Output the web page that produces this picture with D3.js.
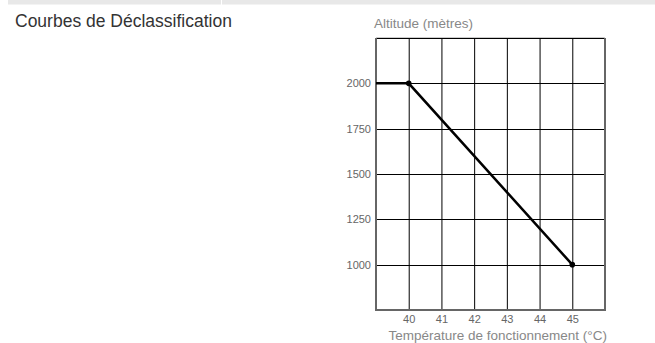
<!DOCTYPE html>
<html>
<head>
<meta charset="utf-8">
<script src="https://cdn.jsdelivr.net/npm/d3@7"></script>
<style>
  body { margin: 0; background: #fff; }
  svg { display: block; font-family: "Liberation Sans", Arial, sans-serif; }
</style>
</head>
<body>
<div id="chart"></div>
<script>
(function () {
  const temps = [39, 40, 45];
  const altitudes = [2000, 2000, 1000];
  const markers = [false, true, true];
  const xTicks = [40, 41, 42, 43, 44, 45];
  const yTicks = [1000, 1250, 1500, 1750, 2000];

  const width = 655;
  const height = 343;

  const svg = d3.select("#chart")
    .append("svg")
    .attr("width", width)
    .attr("height", height);

  // bandeau gris en haut
  svg.append("rect").attr("x", 8).attr("y", 0).attr("width", 213).attr("height", 4.5).attr("fill", "#e8e8e8");
  svg.append("rect").attr("x", 222).attr("y", 0).attr("width", 433).attr("height", 4.5).attr("fill", "#e8e8e8");

  svg.append("text")
    .attr("x", 15)
    .attr("y", 26.5)
    .text("Courbes de Déclassification")
    .style("font-size", "17.5px")
    .style("fill", "#333");

  const x = d3.scaleLinear().domain([39, 46]).range([376, 605]);
  const y = d3.scaleLinear().domain([750, 2250]).range([310, 38]);

  // grille
  svg.selectAll("line.vgrid")
    .data(xTicks)
    .enter()
    .append("line")
    .attr("x1", d => x(d) + 0.5)
    .attr("x2", d => x(d) + 0.5)
    .attr("y1", y(2250))
    .attr("y2", y(750))
    .attr("stroke", "#000")
    .attr("stroke-width", 1);

  svg.selectAll("line.hgrid")
    .data(yTicks.concat([2250]))
    .enter()
    .append("line")
    .attr("x1", x(39))
    .attr("x2", x(46))
    .attr("y1", d => Math.round(y(d)) + 0.5)
    .attr("y2", d => Math.round(y(d)) + 0.5)
    .attr("stroke", "#000")
    .attr("stroke-width", 1);

  // cadre gris
  svg.append("line")
    .attr("x1", x(39)).attr("x2", x(39))
    .attr("y1", y(2250)).attr("y2", y(750) + 1)
    .attr("stroke", "#666").attr("stroke-width", 2);
  svg.append("line")
    .attr("x1", x(46)).attr("x2", x(46))
    .attr("y1", y(2250)).attr("y2", y(750) + 1)
    .attr("stroke", "#666").attr("stroke-width", 2);
  svg.append("line")
    .attr("x1", x(39)).attr("x2", x(46))
    .attr("y1", y(750)).attr("y2", y(750))
    .attr("stroke", "#666").attr("stroke-width", 2);
  svg.append("line")
    .attr("x1", x(39)).attr("x2", x(46))
    .attr("y1", y(2250) - 0.5).attr("y2", y(2250) - 0.5)
    .attr("stroke", "#ccc").attr("stroke-width", 1);

  // axes
  const xAxis = svg.append("g")
    .attr("transform", `translate(0,${y(750)})`)
    .call(d3.axisBottom(x).tickValues(xTicks).tickSize(0).tickPadding(5).tickFormat(d3.format("d")));
  xAxis.select(".domain").remove();
  xAxis.selectAll("text")
    .style("font-size", "11px")
    .style("fill", "#666")
    .style("font-family", "Liberation Sans, Arial, sans-serif");

  const yAxis = svg.append("g")
    .attr("transform", `translate(${x(39)},0)`)
    .call(d3.axisLeft(y).tickValues(yTicks).tickSize(0).tickPadding(5).tickFormat(d3.format("d")));
  yAxis.select(".domain").remove();
  yAxis.selectAll("text")
    .style("font-size", "11px")
    .style("fill", "#666")
    .style("font-family", "Liberation Sans, Arial, sans-serif");

  svg.append("text")
    .attr("x", 374)
    .attr("y", 28)
    .text("Altitude (mètres)")
    .style("font-size", "13.5px")
    .style("fill", "#888");

  svg.append("text")
    .attr("x", 607)
    .attr("y", 340)
    .attr("text-anchor", "end")
    .text("Température de fonctionnement (°C)")
    .style("font-size", "13.5px")
    .style("fill", "#888");

  // courbe
  const pts = temps.map((t, i) => ({ t: t, a: altitudes[i], m: markers[i] }));
  svg.append("path")
    .datum(pts)
    .attr("fill", "none")
    .attr("stroke", "#000")
    .attr("stroke-width", 2.5)
    .attr("d", d3.line().x(d => x(d.t)).y(d => y(d.a)));

  svg.selectAll("circle.pt")
    .data(pts.filter(d => d.m))
    .enter()
    .append("circle")
    .attr("cx", d => x(d.t))
    .attr("cy", d => y(d.a))
    .attr("r", 2.8)
    .attr("fill", "#000");
})();
</script>
</body>
</html>
